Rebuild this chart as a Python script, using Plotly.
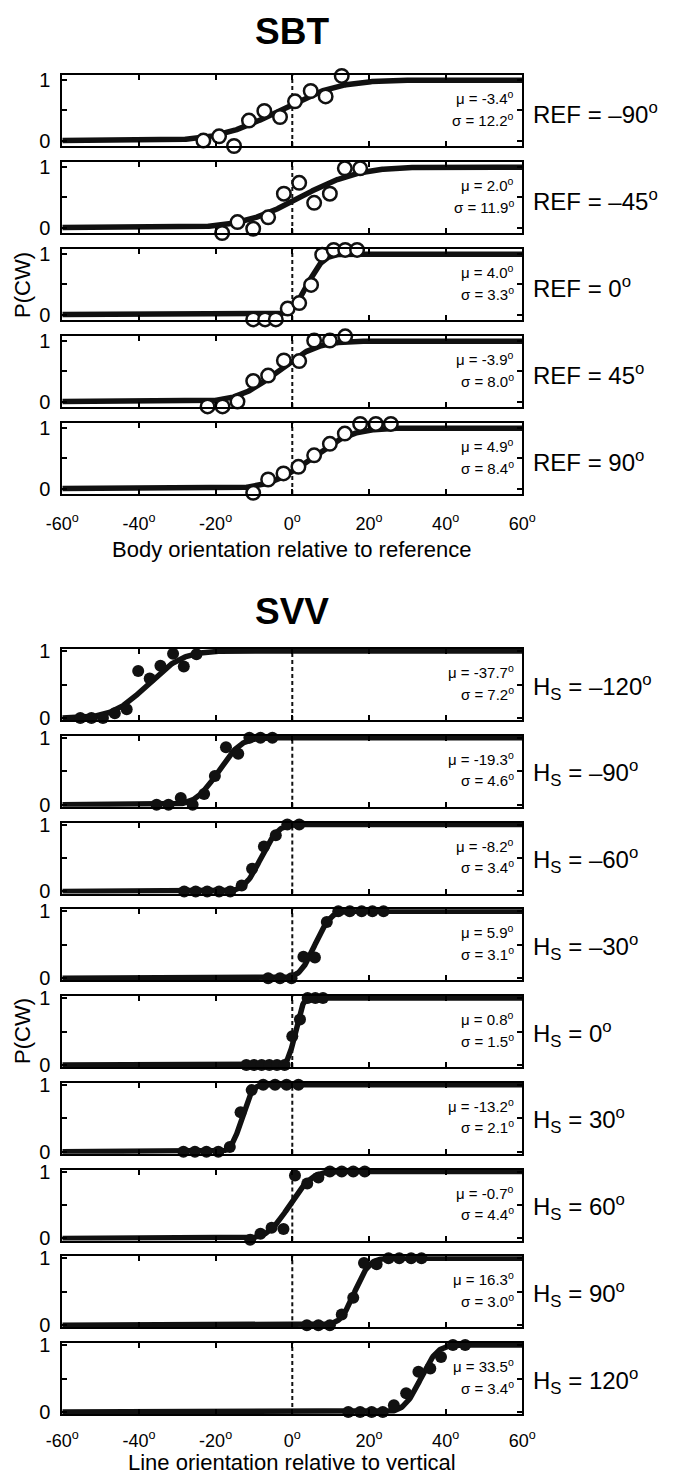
import math
import plotly.graph_objects as go

W, H = 675, 1479

# ---------------- data ----------------
x_ticks = [-60, -40, -20, 0, 20, 40, 60]
x_tick_text = ["-60<sup>o</sup>", "-40<sup>o</sup>", "-20<sup>o</sup>", "0<sup>o</sup>",
               "20<sup>o</sup>", "40<sup>o</sup>", "60<sup>o</sup>"]

sbt_labels = ["REF = –90<sup>o</sup>", "REF = –45<sup>o</sup>", "REF = 0<sup>o</sup>",
              "REF = 45<sup>o</sup>", "REF = 90<sup>o</sup>"]
sbt_mu = [-3.4, 2.0, 4.0, -3.9, 4.9]
sbt_sigma = [12.2, 11.9, 3.3, 8.0, 8.4]
sbt_x_m90 = [-23.2, -19.1, -15.2, -11.3, -7.3, -3.2, 0.7, 4.8, 8.7, 12.9]
sbt_y_m90 = [0.0, 0.07, -0.09, 0.33, 0.49, 0.39, 0.65, 0.82, 0.73, 1.07]
sbt_x_m45 = [-18.3, -14.3, -10.2, -6.3, -2.2, 1.8, 5.7, 9.8, 13.7, 17.7]
sbt_y_m45 = [-0.09, 0.09, -0.02, 0.17, 0.56, 0.74, 0.41, 0.56, 0.98, 0.98]
sbt_x_0 = [-10.2, -7.1, -4.3, -1.2, 1.8, 4.9, 7.8, 10.8, 13.8, 16.9]
sbt_y_0 = [-0.08, -0.08, -0.08, 0.10, 0.19, 0.49, 0.99, 1.07, 1.07, 1.07]
sbt_x_45 = [-22.1, -18.2, -14.3, -10.2, -6.3, -2.2, 1.8, 5.7, 9.8, 13.8]
sbt_y_45 = [-0.08, -0.08, 0.0, 0.34, 0.43, 0.68, 0.67, 1.01, 1.01, 1.08]
sbt_x_90 = [-10.2, -6.3, -2.3, 1.6, 5.7, 9.8, 13.7, 17.7, 21.8, 25.7]
sbt_y_90 = [-0.07, 0.15, 0.25, 0.36, 0.55, 0.74, 0.91, 1.07, 1.07, 1.07]

svv_labels = ["H<sub>S</sub> = –120<sup>o</sup>", "H<sub>S</sub> = –90<sup>o</sup>",
              "H<sub>S</sub> = –60<sup>o</sup>", "H<sub>S</sub> = –30<sup>o</sup>",
              "H<sub>S</sub> = 0<sup>o</sup>", "H<sub>S</sub> = 30<sup>o</sup>",
              "H<sub>S</sub> = 60<sup>o</sup>", "H<sub>S</sub> = 90<sup>o</sup>",
              "H<sub>S</sub> = 120<sup>o</sup>"]
svv_mu = [-37.7, -19.3, -8.2, 5.9, 0.8, -13.2, -0.7, 16.3, 33.5]
svv_sigma = [7.2, 4.6, 3.4, 3.1, 1.5, 2.1, 4.4, 3.0, 3.4]
svv_x_m120 = [-55.3, -52.4, -49.4, -46.3, -43.2, -40.2, -37.2, -34.4, -31.1, -28.3, -25.0]
svv_y_m120 = [0, 0, 0, 0.07, 0.13, 0.70, 0.59, 0.78, 0.96, 0.77, 0.95]
svv_x_m90 = [-35.4, -32.3, -29.1, -26.0, -23.0, -20.2, -17.3, -14.1, -11.2, -8.3, -5.2]
svv_y_m90 = [0, 0, 0.10, 0, 0.16, 0.43, 0.86, 0.76, 1, 1, 1]
svv_x_m60 = [-28.2, -25.2, -22.2, -19.1, -16.2, -13.2, -10.5, -7.4, -4.3, -1.3, 1.8]
svv_y_m60 = [0, 0, 0, 0, 0, 0.09, 0.34, 0.67, 0.84, 1, 1]
svv_x_m30 = [-6.3, -3.2, -0.2, 2.9, 5.9, 9.0, 12.0, 15.0, 18.1, 20.9, 23.8]
svv_y_m30 = [0, 0, 0, 0.32, 0.31, 0.84, 1, 1, 1, 1, 1]
svv_x_0 = [-12, -10, -8, -6, -4, -2, 0, 2, 4, 6, 8]
svv_y_0 = [0, 0, 0, 0, 0, 0, 0.43, 0.68, 1, 1, 1]
svv_x_30 = [-28.4, -25.4, -22.4, -19.3, -16.3, -13.5, -10.6, -7.6, -4.5, -1.5, 1.6]
svv_y_30 = [0, 0, 0, 0, 0.07, 0.59, 0.92, 1, 1, 1, 1]
svv_x_60 = [-11.0, -8.3, -5.4, -2.3, 0.7, 3.9, 6.8, 9.8, 12.9, 15.9, 18.9]
svv_y_60 = [-0.02, 0.07, 0.16, 0.14, 0.94, 0.82, 0.91, 1, 1, 1, 1]
svv_x_90 = [3.8, 6.8, 9.8, 12.9, 15.9, 18.7, 22.0, 25.1, 27.9, 31.0, 33.7]
svv_y_90 = [0, 0, 0, 0.16, 0.41, 0.93, 0.91, 1, 1, 1, 1]
svv_x_120 = [14.6, 17.7, 20.7, 23.6, 26.5, 29.7, 32.9, 36.0, 38.8, 41.9, 45.1]
svv_y_120 = [0, 0, 0, 0, 0.10, 0.28, 0.60, 0.65, 0.82, 1, 1]

sbt_x = [sbt_x_m90, sbt_x_m45, sbt_x_0, sbt_x_45, sbt_x_90]
sbt_y = [sbt_y_m90, sbt_y_m45, sbt_y_0, sbt_y_45, sbt_y_90]
svv_x = [svv_x_m120, svv_x_m90, svv_x_m60, svv_x_m30, svv_x_0, svv_x_30, svv_x_60, svv_x_90, svv_x_120]
svv_y = [svv_y_m120, svv_y_m90, svv_y_m60, svv_y_m30, svv_y_0, svv_y_30, svv_y_60, svv_y_90, svv_y_120]

# ---------------- layout geometry (pixels) ----------------
FONT = "Liberation Sans, Arial, Helvetica, sans-serif"
X_LEFT, X_RIGHT = 62.3, 522.3
BOX_H = 71
sbt_tops = [75 + 87 * i for i in range(5)]
svv_tops = [649 + 86.75 * i for i in range(9)]

grid = [-60 + 0.25 * i for i in range(481)]


def cdf(x, mu, s):
    return 0.5 * (1 + math.erf((x - mu) / (s * math.sqrt(2))))


fig = go.Figure()
layout = dict(width=W, height=H, autosize=False, margin=dict(l=0, r=0, t=0, b=0),
              paper_bgcolor="white", plot_bgcolor="white", showlegend=False,
              font=dict(family=FONT, color="black"))
annotations = []
shapes = []

panels = []
for i in range(5):
    panels.append(dict(top=sbt_tops[i], mu=sbt_mu[i], sigma=sbt_sigma[i], xs=sbt_x[i], ys=sbt_y[i],
                       label=sbt_labels[i], open=True, yr=[-0.09, 1.085], bottom=(i == 4),
                       standoff=12))
for i in range(9):
    panels.append(dict(top=svv_tops[i], mu=svv_mu[i], sigma=svv_sigma[i], xs=svv_x[i], ys=svv_y[i],
                       label=svv_labels[i], open=False, yr=[-0.03, 1.03], bottom=(i == 8),
                       standoff=9))

for k, p in enumerate(panels):
    n = k + 1
    sx = "" if n == 1 else str(n)
    xa, ya = "x" + sx, "y" + sx
    # fitted cumulative Gaussian
    fig.add_trace(go.Scatter(x=grid, y=[cdf(g, p["mu"], p["sigma"]) for g in grid], mode="lines",
                             line=dict(color="#111111", width=5.5), xaxis=xa, yaxis=ya,
                             hoverinfo="skip"))
    if p["open"]:
        marker = dict(symbol="circle", size=13.5, color="white", line=dict(color="#111111", width=2.5))
    else:
        marker = dict(symbol="circle", size=12, color="#111111", line=dict(width=0))
    fig.add_trace(go.Scatter(x=p["xs"], y=p["ys"], mode="markers", marker=marker,
                             xaxis=xa, yaxis=ya, cliponaxis=False))
    y0 = 1 - (p["top"] + BOX_H) / H
    y1 = 1 - p["top"] / H
    axcommon = dict(showline=True, linecolor="black", linewidth=2, mirror="ticks",
                    ticks="inside", ticklen=5, tickwidth=1.5, tickcolor="black",
                    showgrid=False, zeroline=False, fixedrange=True, automargin=False)
    layout["xaxis" + sx] = dict(domain=[X_LEFT / W, X_RIGHT / W], range=[-60, 60],
                               anchor=ya, tickvals=x_ticks, ticktext=x_tick_text,
                               showticklabels=p["bottom"], tickfont=dict(size=18),
                               ticklabelstandoff=p["standoff"], **axcommon)
    layout["yaxis" + sx] = dict(domain=[y0, y1], range=p["yr"], anchor=xa,
                               tickvals=[0, 0.5, 1], ticktext=["0", "", "1"],
                               tickfont=dict(size=20), ticklabelstandoff=6, **axcommon)
    xd = ("x" if n == 1 else "x" + str(n)) + " domain"
    yd = ("y" if n == 1 else "y" + str(n)) + " domain"
    shapes.append(dict(type="line", xref=xa, yref=yd, x0=0, x1=0, y0=0, y1=1,
                       line=dict(color="#111111", width=2, dash="4px,3px"), layer="below"))
    annotations.append(dict(xref=xd, yref=yd, x=0.987, y=0.68, xanchor="right", yanchor="middle",
                            text="μ = %.1f<sup>o</sup>" % p["mu"], showarrow=False,
                            font=dict(size=15)))
    annotations.append(dict(xref=xd, yref=yd, x=0.987, y=0.38, xanchor="right", yanchor="middle",
                            text="σ = %.1f<sup>o</sup>" % p["sigma"], showarrow=False,
                            font=dict(size=15)))
    annotations.append(dict(xref=xd, yref=yd, x=1.018, y=0.47, xanchor="left", yanchor="middle",
                            text=p["label"], showarrow=False, font=dict(size=24)))


def px(xp, yp):
    return xp / W, 1 - yp / H


for text, (xx, yy), size, ang in [
    ("<b>SBT</b>", (292, 31), 37, 0),
    ("<b>SVV</b>", (292, 611), 37, 0),
    ("Body orientation relative to reference", (292, 549), 22, 0),
    ("Line orientation relative to vertical", (292, 1462), 22, 0),
    ("P(CW)", (22, 285), 22, -90),
    ("P(CW)", (22, 1031), 22, -90),
]:
    ax_, ay_ = px(xx, yy)
    annotations.append(dict(xref="paper", yref="paper", x=ax_, y=ay_, xanchor="center",
                            yanchor="middle", text=text, showarrow=False, textangle=ang,
                            font=dict(size=size)))

layout["annotations"] = annotations
layout["shapes"] = shapes
fig.update_layout(**layout)
fig.write_html("out.html", config={"displayModeBar": False},
               post_script="document.body.style.margin='0px';")
